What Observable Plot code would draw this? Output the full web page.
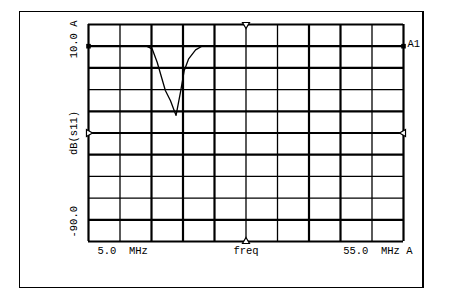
<!DOCTYPE html>
<html>
<head>
<meta charset="utf-8">
<script src="https://cdn.jsdelivr.net/npm/d3@7"></script>
<script src="https://cdn.jsdelivr.net/npm/@observablehq/plot@0.6"></script>
<style>
  body { margin: 0; background: #fff; }
  #wrap { position: relative; width: 464px; height: 305px; }
  #outer { position: absolute; left: 19px; top: 11px; width: 402px; height: 275px; border: 1.5px solid #000; border-right-width: 2px; }
  #wrap svg { position: absolute; left: 0; top: 0; white-space: pre; }
</style>
</head>
<body>
<div id="wrap"><div id="outer"></div></div>
<script>
// Frequency sweep (MHz) and S11 magnitude (dB)
const freq = [14.2, 15.1, 15.9, 17.2, 18.0, 18.9, 19.6, 20.2, 20.9, 22.0, 23.0];
const s11  = [0.0, -1.2, -7.4, -20.4, -25.0, -31.9, -21.2, -11.2, -5.8, -1.7, 0.0];

// Graticule: 5 MHz/div, 10 dB/div
const xGrid = [5, 10, 15, 20, 25, 30, 35, 40, 45, 50, 55];
const yGrid = [10, 0, -10, -20, -30, -40, -50, -60, -70, -80, -90];
const refLevel = 0;
const centerFreq = 30;
const midLevel = -40;

// Labels
const yTopLabel = "10.0 A";
const yMidLabel = "dB(s11)";
const yBotLabel = "-90.0";
const xStartLabel = "5.0  MHz";
const xMidLabel = "freq";
const xStopLabel = "55.0  MHz A";
const traceLabel = "A1";

// styling of graticule (which lines look heavier in the print)
const heavyX = new Set([5, 15, 20, 25, 40, 45, 55]);
const heavyY = new Set([10, 0, -10, -30, -40, -50, -80, -90]);

const curve = freq.map((f, i) => ({f, db: s11[i]}));
const font = "Liberation Mono, DejaVu Sans Mono, monospace";

const plot = Plot.plot({
  width: 464,
  height: 305,
  marginLeft: 88,
  marginRight: 61,
  marginTop: 24,
  marginBottom: 64,
  x: {domain: [5, 55], axis: null},
  y: {domain: [-90, 10], axis: null},
  style: {background: "transparent", fontFamily: font, fontSize: "10.5px", color: "#000"},
  marks: [
    Plot.ruleX(xGrid, {x: d => d, stroke: "#000", strokeWidth: d => heavyX.has(d) ? 2.2 : 1.3}),
    Plot.ruleY(yGrid, {y: d => d, stroke: "#000", strokeWidth: d => heavyY.has(d) ? 2.2 : 1.3}),
    Plot.line(curve, {x: "f", y: "db", stroke: "#000", strokeWidth: 1.3}),
    // reference markers
    Plot.dot([d3.min(xGrid), d3.max(xGrid)], {x: d => d, y: () => refLevel, symbol: "square", r: 2.6, fill: "#000"}),
    Plot.dot([{x: d3.min(xGrid), y: midLevel, rot: 90}, {x: d3.max(xGrid), y: midLevel, rot: -90}],
      {x: "x", y: "y", rotate: "rot", symbol: "triangle", r: 2.6, fill: "#fff", stroke: "#000", strokeWidth: 1.2}),
    Plot.dot([{x: centerFreq, y: d3.max(yGrid), rot: 180}, {x: centerFreq, y: d3.min(yGrid), rot: 0}],
      {x: "x", y: "y", rotate: "rot", symbol: "triangle", r: 2.6, fill: "#fff", stroke: "#000", strokeWidth: 1.2}),
    // y labels (rotated)
    Plot.text([yTopLabel], {frameAnchor: "left", y: () => d3.max(yGrid), text: d => d, rotate: -90, textAnchor: "end", dx: -15, dy: -4, fill: "#000"}),
    Plot.text([yMidLabel], {frameAnchor: "left", y: () => midLevel, text: d => d, rotate: -90, textAnchor: "middle", dx: -15, fill: "#000"}),
    Plot.text([yBotLabel], {frameAnchor: "left", y: () => d3.min(yGrid), text: d => d, rotate: -90, textAnchor: "start", dx: -15, dy: -4, fill: "#000"}),
    // x labels
    Plot.text([xStartLabel], {frameAnchor: "bottom", x: () => d3.min(xGrid), text: d => d, textAnchor: "start", dx: 9, dy: 12, fill: "#000"}),
    Plot.text([xMidLabel], {frameAnchor: "bottom", x: () => centerFreq, text: d => d, textAnchor: "middle", dy: 12, fill: "#000"}),
    Plot.text([xStopLabel], {frameAnchor: "bottom", x: () => d3.max(xGrid), text: d => d, textAnchor: "end", dx: 9, dy: 12, fill: "#000"}),
    Plot.text([traceLabel], {x: () => d3.max(xGrid), y: () => refLevel, text: d => d, textAnchor: "start", dx: 4, dy: -3, fill: "#000"})
  ]
});
document.getElementById("wrap").appendChild(plot);
</script>
</body>
</html>
